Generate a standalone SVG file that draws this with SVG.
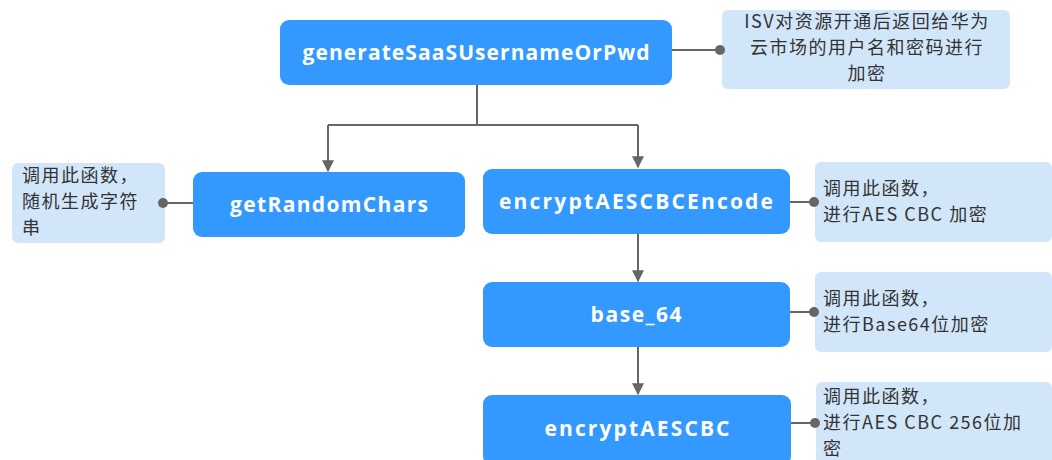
<svg xmlns="http://www.w3.org/2000/svg" width="1052" height="460" viewBox="0 0 1052 460">
<defs>
<style>
.node{fill:#3399ff;}
.note{fill:#d2e6fa;}
.nt{font-family:"Open Sans","DejaVu Sans",sans-serif;font-weight:700;font-size:21px;fill:#ffffff;text-anchor:middle;}
.tt{font-family:"Noto Sans CJK SC","Noto Sans",sans-serif;font-size:18px;letter-spacing:1.5px;fill:#333333;}
.ln{stroke:#666666;stroke-width:2;fill:none;}
.dot{fill:#666666;}
</style>
<marker id="arr" viewBox="0 0 10 10" refX="9" refY="5" markerWidth="6" markerHeight="6" markerUnits="strokeWidth" orient="auto">
<path d="M0,0 L10,5 L0,10 z" fill="#666666"/>
</marker>
</defs>
<rect width="1052" height="460" fill="#ffffff"/>
<g id="n-generate">
<rect class="node" x="280" y="20" width="392" height="65" rx="9"/>
<text class="nt" x="476" y="60" textLength="347" lengthAdjust="spacing">generateSaaSUsernameOrPwd</text>
</g>
<g id="note-generate">
<rect class="note" x="722" y="10" width="288" height="79" rx="6"/>
<text class="tt" x="867" y="28" text-anchor="middle">ISV对资源开通后返回给华为</text>
<text class="tt" x="867" y="54" text-anchor="middle">云市场的用户名和密码进行</text>
<text class="tt" x="867" y="80" text-anchor="middle">加密</text>
</g>
<g id="n-getRandomChars">
<rect class="node" x="193" y="172" width="272" height="65" rx="9"/>
<text class="nt" x="329" y="212" textLength="198" lengthAdjust="spacing">getRandomChars</text>
</g>
<g id="note-getRandomChars">
<rect class="note" x="12" y="163" width="153" height="80" rx="6"/>
<text class="tt" x="22" y="182">调用此函数，</text>
<text class="tt" x="22" y="208">随机生成字符</text>
<text class="tt" x="22" y="234">串</text>
</g>
<g id="n-encode">
<rect class="node" x="483" y="169" width="307" height="65" rx="9"/>
<text class="nt" x="636" y="209" textLength="274" lengthAdjust="spacing">encryptAESCBCEncode</text>
</g>
<g id="note-encode">
<rect class="note" x="815" y="162" width="237" height="80" rx="6"/>
<text class="tt" x="823" y="195">调用此函数，</text>
<text class="tt" x="823" y="221">进行AES CBC 加密</text>
</g>
<g id="n-base64">
<rect class="node" x="483" y="282" width="307" height="65" rx="9"/>
<text class="nt" x="636" y="322" textLength="91" lengthAdjust="spacing">base_64</text>
</g>
<g id="note-base64">
<rect class="note" x="815" y="272" width="237" height="80" rx="6"/>
<text class="tt" x="823" y="305">调用此函数，</text>
<text class="tt" x="823" y="331">进行Base64位加密</text>
</g>
<g id="n-aescbc">
<rect class="node" x="483" y="395" width="308" height="70" rx="9"/>
<text class="nt" x="637" y="436" textLength="185" lengthAdjust="spacing">encryptAESCBC</text>
</g>
<g id="note-aescbc">
<rect class="note" x="816" y="382" width="236" height="84" rx="6"/>
<text class="tt" x="823" y="403">调用此函数，</text>
<text class="tt" x="823" y="429">进行AES CBC 256位加</text>
<text class="tt" x="823" y="455">密</text>
</g>
<g id="connectors">
<path class="ln" d="M477,85 V125"/>
<path class="ln" d="M328,125 H638"/>
<path class="ln" d="M328,125 V171" marker-end="url(#arr)"/>
<path class="ln" d="M638,125 V167" marker-end="url(#arr)"/>
<path class="ln" d="M638,234 V281" marker-end="url(#arr)"/>
<path class="ln" d="M638,347 V394" marker-end="url(#arr)"/>
<path class="ln" d="M672,50 H720"/>
<circle class="dot" cx="720" cy="50" r="5"/>
<path class="ln" d="M193,203 H163"/>
<circle class="dot" cx="163" cy="203" r="5"/>
<path class="ln" d="M790,202 H814"/>
<circle class="dot" cx="814" cy="202" r="5"/>
<path class="ln" d="M790,312 H814"/>
<circle class="dot" cx="814" cy="312" r="5"/>
<path class="ln" d="M791,423 H815"/>
<circle class="dot" cx="815" cy="423" r="5"/>
</g>
</svg>
